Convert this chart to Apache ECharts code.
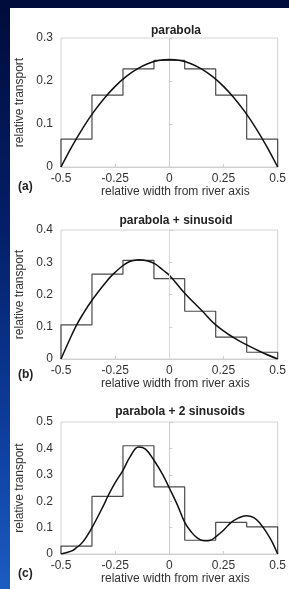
<!DOCTYPE html>
<html>
<head>
<meta charset="utf-8">
<script src="https://cdn.jsdelivr.net/npm/echarts@6/dist/echarts.min.js"></script>
<style>
html,body{margin:0;padding:0;width:289px;height:589px;overflow:hidden;}
body{background:linear-gradient(to bottom,#000c3a 0%,#04206a 40%,#0f3f9f 75%,#1c5cc2 100%);}
#panel{position:absolute;left:10px;top:8px;width:279px;height:581px;background:#fff;}
#chart{position:absolute;left:0;top:0;width:289px;height:589px;}
</style>
</head>
<body>
<div id="panel"></div>
<div id="chart"></div>
<script>
// Shared
var binEdges = [-0.5, -0.357, -0.214, -0.071, 0.071, 0.214, 0.357, 0.5];
var xTicks = [-0.5, -0.25, 0, 0.25, 0.5];

// (a) parabola
var titleA = 'parabola';
var binsA = [0.065, 0.167, 0.228, 0.248, 0.228, 0.167, 0.065];
var curveAX = [-0.5,-0.45,-0.4,-0.35,-0.3,-0.25,-0.2,-0.15,-0.1,-0.05,0,0.05,0.1,0.15,0.2,0.25,0.3,0.35,0.4,0.45,0.5];
var curveAY = [0,0.0475,0.09,0.1275,0.16,0.1875,0.21,0.2275,0.24,0.2475,0.25,0.2475,0.24,0.2275,0.21,0.1875,0.16,0.1275,0.09,0.0475,0];
var yMaxA = 0.3;

// (b) parabola + sinusoid
var titleB = 'parabola + sinusoid';
var binsB = [0.106, 0.263, 0.306, 0.249, 0.148, 0.068, 0.021];
var curveBX = [-0.5,-0.45,-0.43,-0.4,-0.357,-0.3,-0.264,-0.214,-0.18,-0.142,-0.1,-0.066,-0.03,0,0.07,0.153,0.214,0.297,0.362,0.426,0.5];
var curveBY = [0,0.075,0.103,0.138,0.182,0.232,0.26,0.29,0.303,0.308,0.304,0.295,0.276,0.26,0.205,0.148,0.106,0.066,0.042,0.021,0];
var yMaxB = 0.4;

// (c) parabola + 2 sinusoids
var titleC = 'parabola + 2 sinusoids';
var binsC = [0.03, 0.218, 0.41, 0.254, 0.052, 0.12, 0.103];
var curveCX = [-0.5,-0.45,-0.43,-0.4,-0.357,-0.3,-0.286,-0.25,-0.214,-0.18,-0.142,-0.11,-0.071,-0.03,0,0.035,0.071,0.1,0.13,0.162,0.19,0.214,0.25,0.283,0.32,0.355,0.39,0.42,0.45,0.475,0.5];
var curveCY = [0,0.012,0.023,0.045,0.1,0.19,0.215,0.27,0.317,0.37,0.405,0.397,0.355,0.3,0.25,0.19,0.12,0.085,0.06,0.05,0.052,0.065,0.09,0.118,0.137,0.145,0.138,0.115,0.08,0.045,0];
var yMaxC = 0.5;

var panelLabels = ['(a)', '(b)', '(c)'];

function stepData(edges, vals){
  var d = [[edges[0], 0]];
  for (var i = 0; i < vals.length; i++){
    d.push([edges[i], vals[i]]);
    d.push([edges[i+1], vals[i]]);
  }
  d.push([edges[edges.length-1], 0]);
  return d;
}
function zip(xs, ys){ return xs.map(function(x,i){ return [x, ys[i]]; }); }

var grids = [
  {left:61, right:8, top:38, height:129},
  {left:61, right:8, top:230, height:129},
  {left:61, right:8, top:422, height:132}
];
var titles = [titleA, titleB, titleC];
var titleTops = [20, 210, 401];
var titleLefts = [171, 171, 175];
var labelTops = [176, 364, 563];
var yMaxes = [yMaxA, yMaxB, yMaxC];
var binsAll = [binsA, binsB, binsC];
var curves = [zip(curveAX, curveAY), zip(curveBX, curveBY), zip(curveCX, curveCY)];

var option = {
  backgroundColor: 'transparent',
  animation: false,
  title: [],
  grid: [],
  xAxis: [],
  yAxis: [],
  series: []
};

for (var k = 0; k < 3; k++){
  option.title.push({
    text: titles[k], left: titleLefts[k], top: titleTops[k], textAlign: 'center',
    textStyle: {fontFamily: 'Liberation Sans, Arial', fontSize: 12, fontWeight: 'bold', color: '#222'}
  });
  option.title.push({
    text: panelLabels[k], left: 13, top: labelTops[k],
    textStyle: {fontFamily: 'Liberation Sans, Arial', fontSize: 12, fontWeight: 'bold', color: '#222'}
  });
  var g = grids[k];
  option.grid.push({left:g.left, right:g.right, top:g.top, height:g.height, show:true, borderColor:'#d4d4d4', borderWidth:1, containLabel:false});
  option.xAxis.push({
    type: 'value', gridIndex: k, min: -0.5, max: 0.5, interval: 0.25,
    name: 'relative width from river axis', nameLocation: 'middle', nameGap: 16,
    nameTextStyle: {fontFamily: 'Liberation Sans, Arial', fontSize: 12, color: '#333', padding: [0,0,0,12]},
    axisLine: {show: true, onZero: false, lineStyle: {color: '#cfcfcf', width: 1}},
    axisTick: {show: true, inside: true, length: 3, lineStyle: {color: '#cfcfcf'}},
    axisLabel: {margin: 6, fontFamily: 'Liberation Sans, Arial', fontSize: 12, color: '#333'},
    splitLine: {show: false}
  });
  option.yAxis.push({
    type: 'value', gridIndex: k, min: 0, max: yMaxes[k], interval: 0.1,
    name: 'relative transport', nameLocation: 'middle', nameGap: 31,
    nameTextStyle: {fontFamily: 'Liberation Sans, Arial', fontSize: 12, color: '#333'},
    axisLine: {show: true, lineStyle: {color: '#cfcfcf', width: 1}},
    axisTick: {show: true, inside: true, length: 3, lineStyle: {color: '#cfcfcf'}},
    axisLabel: {margin: 8, fontFamily: 'Liberation Sans, Arial', fontSize: 12, color: '#333'},
    splitLine: {show: false}
  });
  var stepSeries = {
    type: 'line', xAxisIndex: k, yAxisIndex: k, data: stepData(binEdges, binsAll[k]),
    symbol: 'none', lineStyle: {color: '#4a4a4a', width: 1.2}, z: 2
  };
  if (k === 1){
    stepSeries.markLine = {silent: true, symbol: 'none', label: {show: false},
      lineStyle: {color: '#d8d8d8', type: 'solid', width: 1}, data: [{xAxis: 0}]};
  }
  option.series.push(stepSeries);
  option.series.push({
    type: 'line', xAxisIndex: k, yAxisIndex: k, data: curves[k],
    symbol: 'none', smooth: 0.4, lineStyle: {color: '#111', width: 1.5}, z: 3
  });
}

var chart = echarts.init(document.getElementById('chart'), null, {renderer: 'canvas'});
chart.setOption(option);
</script>
</body>
</html>
